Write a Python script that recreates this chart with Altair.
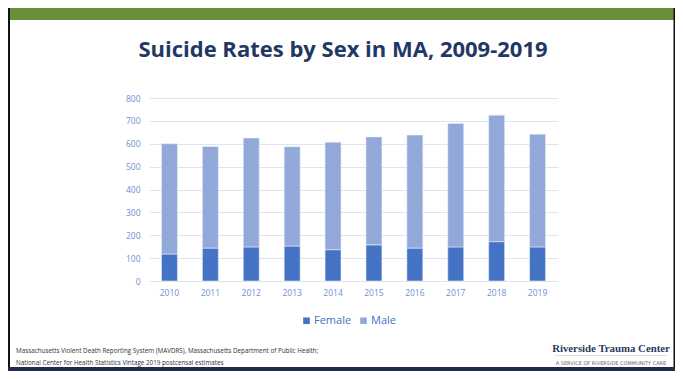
import altair as alt
import pandas as pd

years = ["2010", "2011", "2012", "2013", "2014", "2015", "2016", "2017", "2018", "2019"]
female = [118, 144, 149, 153, 137, 158, 144, 149, 172, 149]
male = [482, 444, 476, 434, 470, 472, 494, 540, 553, 493]
series = ["Female", "Male"]
colors = ["#4472C4", "#91A8D8"]
y_ticks = [0, 100, 200, 300, 400, 500, 600, 700, 800]

title_text = "Suicide Rates by Sex in MA, 2009-2019"
source_lines = [
    "Massachusetts Violent Death Reporting System (MAVDRS), Massachusetts Department of Public Health;",
    "National Center for Health Statistics Vintage 2019 postcensal estimates",
]
logo_main = "Riverside Trauma Center"
logo_sub = "A SERVICE OF RIVERSIDE COMMUNITY CARE"

rows = []
for i, y in enumerate(years):
    rows.append({"year": y, "sex": "Female", "value": female[i], "ord": 0})
    rows.append({"year": y, "sex": "Male", "value": male[i], "ord": 1})
df = pd.DataFrame(rows)
one = pd.DataFrame({"a": [0]})

W, H = 409, 183
AXIS_COLOR = "#6F8FD6"
GRID_COLOR = "#DCE3F3"

bars = alt.Chart(df).mark_bar(stroke="#E8EDF8", strokeWidth=0.6).encode(
    x=alt.X("year:N", sort=years,
            scale=alt.Scale(paddingInner=0.61, paddingOuter=0.305),
            axis=alt.Axis(title=None, labelAngle=0, labelColor=AXIS_COLOR, labelFont="Open Sans",
                          labelFontSize=8.5, labelPadding=7, ticks=False, domain=False)),
    y=alt.Y("value:Q", stack="zero",
            scale=alt.Scale(domain=[0, 800], nice=False),
            axis=alt.Axis(title=None, values=y_ticks, labelColor=AXIS_COLOR, labelFont="Open Sans",
                          labelFontSize=8.5, labelPadding=9, ticks=False, domain=False,
                          gridColor=GRID_COLOR, gridWidth=1.2)),
    color=alt.Color("sex:N", sort=series,
                    scale=alt.Scale(domain=series, range=colors),
                    legend=alt.Legend(title=None, orient="none", direction="horizontal",
                                      legendX=152, legendY=217, symbolType="square",
                                      symbolSize=44, symbolStrokeWidth=0, labelColor="#4472C4",
                                      labelFont="Open Sans", labelFontSize=11, labelOffset=2,
                                      columnPadding=6)),
    order=alt.Order("ord:Q"),
)

def rect(x1, x2, y1, y2, color):
    return alt.Chart(one).mark_rect(color=color).encode(
        x=alt.value(x1), x2=alt.value(x2), y=alt.value(y1), y2=alt.value(y2))

green = rect(-141, 526, -90, -78, "#6A8F39")
left_line = rect(-141, -139, -90, 273, "#111111")
right_line = rect(524.5, 526, -90, 273, "#111111")
bottom_band = rect(-141, 526, 269, 273, "#1E2B4C")
logo_rule = rect(406, 518, 257.5, 258, "#BBBBBB")

title = alt.Chart(one).mark_text(
    text=title_text, font="Open Sans", fontWeight="bold", fontSize=22, color="#1F3864",
    align="center", baseline="alphabetic").encode(x=alt.value(194), y=alt.value(-41))

src1 = alt.Chart(one).mark_text(
    text=source_lines[0], font="Open Sans", fontSize=6.3, color="#333333",
    align="left", baseline="middle").encode(x=alt.value(-133), y=alt.value(253))
src2 = alt.Chart(one).mark_text(
    text=source_lines[1], font="Open Sans", fontSize=6.3, color="#333333",
    align="left", baseline="middle").encode(x=alt.value(-133), y=alt.value(265))

logo1 = alt.Chart(one).mark_text(
    text=logo_main, font="Liberation Serif", fontWeight="bold", fontSize=10.8, color="#2B3A5C",
    align="center", baseline="middle").encode(x=alt.value(462), y=alt.value(251))
logo2 = alt.Chart(one).mark_text(
    text=logo_sub, font="DejaVu Sans", fontSize=5, color="#666666",
    align="center", baseline="middle").encode(x=alt.value(462), y=alt.value(265))

chart = alt.layer(
    green, left_line, right_line, bottom_band, logo_rule,
    bars, title, src1, src2, logo1, logo2
).properties(
    width=W, height=H,
    autosize=alt.AutoSizeParams(type="none"),
    padding={"left": 141, "top": 90, "right": 117, "bottom": 90},
    background="white",
).configure_view(stroke=None)

chart.save("out.html", embed_options={"renderer": "svg", "actions": False})
